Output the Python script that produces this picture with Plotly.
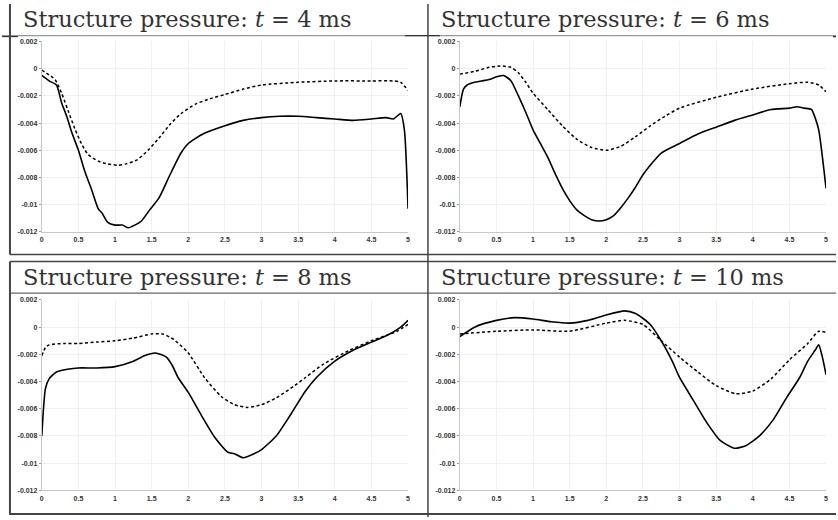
import plotly.graph_objects as go

# ---------------- data ----------------
titles = ["Structure pressure: <i>t</i> = 4 ms", "Structure pressure: <i>t</i> = 6 ms",
          "Structure pressure: <i>t</i> = 8 ms", "Structure pressure: <i>t</i> = 10 ms"]

x_ticks = [0, 0.5, 1, 1.5, 2, 2.5, 3, 3.5, 4, 4.5, 5]
x_ticktext = ["0", "0.5", "1", "1.5", "2", "2.5", "3", "3.5", "4", "4.5", "5"]
y_ticks = [0.002, 0, -0.002, -0.004, -0.006, -0.008, -0.01, -0.012]
y_ticktext = ["0.002", "0", "-0.002", "-0.004", "-0.006", "-0.008", "-0.01", "-0.012"]

# t = 4 ms
p1_solid_x = [0, 0.1, 0.2, 0.27, 0.34, 0.41, 0.5, 0.59, 0.68, 0.77, 0.82, 0.9, 1.0, 1.1, 1.18, 1.27, 1.36, 1.47, 1.6, 1.75, 1.9, 2.0, 2.2, 2.5, 2.75, 3.0, 3.25, 3.5, 3.75, 4.0, 4.25, 4.5, 4.7, 4.8, 4.9, 4.95, 5.0]
p1_solid_y = [-0.0005, -0.0009, -0.0012, -0.0025, -0.0035, -0.0047, -0.006, -0.0076, -0.0089, -0.0103, -0.0106, -0.0113, -0.0115, -0.0115, -0.0117, -0.0115, -0.0112, -0.0104, -0.0095, -0.0078, -0.0062, -0.0055, -0.0048, -0.0042, -0.0038, -0.0036, -0.0035, -0.0035, -0.0036, -0.0037, -0.0038, -0.0037, -0.0036, -0.0037, -0.0033, -0.0045, -0.0103]
p1_dash_x = [0, 0.18, 0.27, 0.36, 0.45, 0.54, 0.63, 0.77, 0.9, 1.04, 1.15, 1.3, 1.45, 1.6, 1.75, 1.9, 2.1, 2.3, 2.5, 2.75, 3.0, 3.5, 4.0, 4.5, 4.8, 4.9, 5.0]
p1_dash_y = [-0.0001, -0.0008, -0.0018, -0.0031, -0.0044, -0.0055, -0.0063, -0.0068, -0.007, -0.0071, -0.007, -0.0067, -0.006, -0.0051, -0.0041, -0.0033, -0.0026, -0.0022, -0.0019, -0.0015, -0.0012, -0.001, -0.0009, -0.0009, -0.0009, -0.001, -0.0016]

# t = 6 ms
p2_solid_x = [0, 0.05, 0.1, 0.2, 0.3, 0.4, 0.5, 0.6, 0.7, 0.8, 0.9, 1.0, 1.1, 1.2, 1.3, 1.4, 1.5, 1.6, 1.7, 1.8, 1.9, 2.0, 2.1, 2.2, 2.3, 2.4, 2.5, 2.6, 2.75, 3.0, 3.25, 3.5, 3.75, 4.0, 4.25, 4.5, 4.6, 4.7, 4.8, 4.85, 4.9, 5.0]
p2_solid_y = [-0.0028, -0.0015, -0.0012, -0.001, -0.0009, -0.0008, -0.0006, -0.0005, -0.0009, -0.002, -0.0032, -0.0045, -0.0055, -0.0065, -0.0077, -0.0088, -0.0097, -0.0104, -0.0108, -0.0111, -0.0112, -0.0111, -0.0108, -0.0102, -0.0095, -0.0087, -0.0078, -0.0071, -0.0062, -0.0055, -0.0048, -0.0043, -0.0038, -0.0034, -0.003, -0.0029, -0.0028, -0.0029, -0.003, -0.0036, -0.0045, -0.0088]
p2_dash_x = [0, 0.2, 0.4, 0.55, 0.7, 0.8, 0.9, 1.0, 1.2, 1.4, 1.6, 1.8, 2.0, 2.2, 2.4, 2.6, 2.8, 3.0, 3.5, 4.0, 4.5, 4.75, 4.9, 5.0]
p2_dash_y = [-0.0004, -0.0002, 0.0001, 0.0002, 0.0001, -0.0003, -0.001, -0.0018, -0.003, -0.0042, -0.0052, -0.0058, -0.006, -0.0057, -0.005, -0.0042, -0.0035, -0.0029, -0.0021, -0.0015, -0.0011, -0.001, -0.0012, -0.0017]

# t = 8 ms
p3_solid_x = [0, 0.05, 0.1, 0.2, 0.35, 0.5, 0.75, 1.0, 1.25, 1.4, 1.55, 1.7, 1.78, 1.86, 2.0, 2.18, 2.36, 2.54, 2.63, 2.75, 2.9, 3.0, 3.2, 3.4, 3.6, 3.75, 4.0, 4.25, 4.5, 4.75, 4.9, 5.0]
p3_solid_y = [-0.008, -0.0045, -0.0038, -0.0033, -0.0031, -0.003, -0.003, -0.0029, -0.0025, -0.0021, -0.0019, -0.0022, -0.0028, -0.0037, -0.0048, -0.0065, -0.0081, -0.0092, -0.0093, -0.0096, -0.0093, -0.009, -0.008, -0.0064, -0.0047, -0.0037, -0.0025, -0.0017, -0.0011, -0.0005, 0.0, 0.0005]
p3_dash_x = [0, 0.05, 0.1, 0.3, 0.5, 0.75, 1.0, 1.25, 1.5, 1.65, 1.8, 2.0, 2.22, 2.45, 2.63, 2.81, 3.0, 3.2, 3.45, 3.6, 3.85, 4.2, 4.5, 4.85, 5.0]
p3_dash_y = [-0.0021, -0.0015, -0.0013, -0.0012, -0.0012, -0.0011, -0.001, -0.0008, -0.0005, -0.0005, -0.0009, -0.0019, -0.0037, -0.0051, -0.0057, -0.0059, -0.0057, -0.0052, -0.0043, -0.0037, -0.0027, -0.0017, -0.001, -0.0003, 0.0002]

# t = 10 ms
p4_solid_x = [0, 0.2, 0.5, 0.75, 1.0, 1.25, 1.5, 1.75, 2.0, 2.25, 2.4, 2.6, 2.75, 2.9, 3.0, 3.19, 3.37, 3.55, 3.75, 3.91, 4.09, 4.28, 4.46, 4.64, 4.75, 4.85, 4.9, 4.95, 5.0]
p4_solid_y = [-0.0007, 0.0, 0.0005, 0.0007, 0.0006, 0.0004, 0.0003, 0.0005, 0.0009, 0.0012, 0.001, 0.0002, -0.001, -0.0025, -0.0037, -0.0054, -0.007, -0.0083, -0.0089, -0.0087, -0.008, -0.0068, -0.0052, -0.0037, -0.0025, -0.0017, -0.0013, -0.0022, -0.0035]
p4_dash_x = [0, 0.5, 1.0, 1.5, 2.0, 2.25, 2.5, 2.75, 3.0, 3.25, 3.5, 3.77, 4.0, 4.25, 4.5, 4.75, 4.9, 5.0]
p4_dash_y = [-0.0005, -0.0003, -0.0002, -0.0003, 0.0003, 0.0005, 0.0002, -0.001, -0.0022, -0.0033, -0.0043, -0.0049, -0.0047, -0.0038, -0.0024, -0.0012, -0.0003, -0.0004]

panels = [
    (p1_solid_x, p1_solid_y, p1_dash_x, p1_dash_y),
    (p2_solid_x, p2_solid_y, p2_dash_x, p2_dash_y),
    (p3_solid_x, p3_solid_y, p3_dash_x, p3_dash_y),
    (p4_solid_x, p4_solid_y, p4_dash_x, p4_dash_y),
]

# ---------------- layout geometry (pixels) ----------------
W, H = 838, 520
plot_boxes = [(40, 408, 38, 231), (460, 828, 38, 231), (40, 408, 300, 493), (460, 828, 300, 493)]

fig = go.Figure()
layout = dict(width=W, height=H, margin=dict(l=0, r=0, t=0, b=0),
              paper_bgcolor="white", plot_bgcolor="white", showlegend=False)

tickfont = dict(family="Liberation Sans, Arial, sans-serif", size=7, color="#333", weight="bold")

for i, (sx, sy, dx, dy) in enumerate(panels):
    n = "" if i == 0 else str(i + 1)
    x0, x1, y0, y1 = plot_boxes[i]
    layout["xaxis" + n] = dict(domain=[x0 / W, x1 / W], range=[0, 5], anchor="y" + n,
                               tickvals=x_ticks, ticktext=x_ticktext, tickfont=tickfont,
                               showgrid=True, gridcolor="#efefef", gridwidth=1, zeroline=False,
                               showline=True, linecolor="#c8c8c8", linewidth=1,
                               ticks="", ticklabelstandoff=1, fixedrange=True)
    layout["yaxis" + n] = dict(domain=[1 - y1 / H, 1 - y0 / H], range=[-0.012, 0.002], anchor="x" + n,
                               tickvals=y_ticks, ticktext=y_ticktext, tickfont=tickfont,
                               showgrid=True, gridcolor="#efefef", gridwidth=1, zeroline=False,
                               showline=True, linecolor="#c8c8c8", linewidth=1,
                               ticks="outside", ticklen=2, tickcolor="#999", fixedrange=True)
    fig.add_trace(go.Scatter(x=dx, y=dy, mode="lines", xaxis="x" + n, yaxis="y" + n,
                             line=dict(color="black", width=1.5, dash="3px,2.5px", shape="spline", smoothing=0.6)))
    fig.add_trace(go.Scatter(x=sx, y=sy, mode="lines", xaxis="x" + n, yaxis="y" + n,
                             line=dict(color="black", width=1.6, shape="spline", smoothing=0.6)))

fig.update_layout(**layout)

# ---------------- table frame ----------------
def hline(y, xa, xb, color="#444", width=1.5):
    fig.add_shape(type="line", xref="paper", yref="paper", x0=xa / W, x1=xb / W,
                  y0=1 - y / H, y1=1 - y / H, line=dict(color=color, width=width))

def vline(x, ya, yb, color="#444", width=1.5):
    fig.add_shape(type="line", xref="paper", yref="paper", x0=x / W, x1=x / W,
                  y0=1 - ya / H, y1=1 - yb / H, line=dict(color=color, width=width))

hline(32, 0, W, color="#999", width=1.2)
hline(33, 0, 16, color="#333", width=1.2)
hline(32, 405, 440, color="#333", width=1.2)
hline(33, 835, W, color="#333", width=1.5)
hline(254, 8, W)
hline(261, 8, W)
hline(293, 8, W, color="#666", width=1.2)
hline(517, 8, W, width=2)
vline(8, 0, 254, width=2)
vline(8, 261, 518, width=2)
vline(428, 0, 520, width=1.5)

# ---------------- headers ----------------
header_pos = [(20, 15), (440, 15), (20, 277), (440, 277)]
for (hx, hy), t in zip(header_pos, titles):
    fig.add_annotation(xref="paper", yref="paper", x=hx / W, y=1 - hy / H, text=t,
                       showarrow=False, xanchor="left", yanchor="middle", borderpad=0,
                       font=dict(family="DejaVu Serif, Liberation Serif, serif", size=22.5, color="#333"))

fig.write_html("out.html")
